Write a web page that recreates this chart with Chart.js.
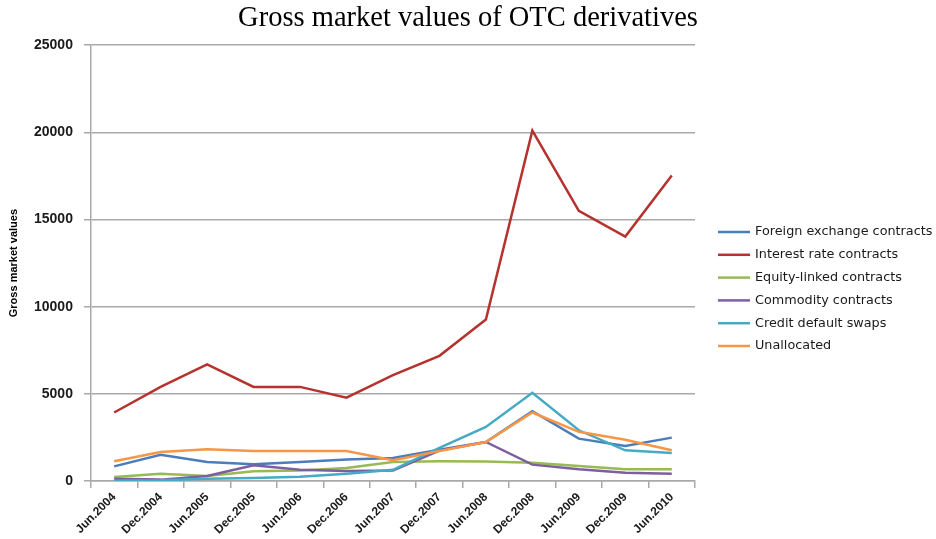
<!DOCTYPE html>
<html>
<head>
<meta charset="utf-8">
<script src="https://cdn.jsdelivr.net/npm/chart.js@4.4.1/dist/chart.umd.min.js"></script>
<style>
  html, body { margin: 0; padding: 0; background: #ffffff; }
  #wrap { width: 936px; height: 539px; position: relative; }
</style>
</head>
<body>
<div id="wrap"><canvas id="chart"></canvas></div>
<script>
// Half-yearly reporting dates
const categories = ['Jun.2004', 'Dec.2004', 'Jun.2005', 'Dec.2005', 'Jun.2006', 'Dec.2006',
                    'Jun.2007', 'Dec.2007', 'Jun.2008', 'Dec.2008', 'Jun.2009', 'Dec.2009', 'Jun.2010'];

// Gross market values by risk category
const foreignExchange = [840, 1510, 1090, 960, 1090, 1230, 1320, 1800, 2240, 4000, 2430, 2010, 2490];
const interestRate    = [3930, 5400, 6690, 5400, 5400, 4780, 6070, 7180, 9260, 20100, 15500, 14020, 17530];
const equityLinked    = [230, 420, 290, 560, 600, 750, 1090, 1130, 1120, 1050, 860, 670, 670];
const commodity       = [130, 80, 290, 900, 650, 575, 610, 1750, 2240, 940, 670, 480, 420];
const creditDefault   = [20, 40, 130, 175, 250, 420, 640, 1900, 3100, 5060, 2910, 1760, 1610];
const unallocated     = [1130, 1670, 1820, 1720, 1720, 1720, 1190, 1720, 2240, 3930, 2820, 2370, 1760];

const seriesNames = ['Foreign exchange contracts', 'Interest rate contracts', 'Equity-linked contracts',
                     'Commodity contracts', 'Credit default swaps', 'Unallocated'];
const seriesValues = [foreignExchange, interestRate, equityLinked, commodity, creditDefault, unallocated];
const seriesColors = ['#4a7ebb', '#b5322f', '#98b954', '#7d5fa0', '#46aac5', '#f79646'];

// y axis tick values
const yTicks = [0, 5000, 10000, 15000, 20000, 25000];

// Legend drawn as a simple column of line samples to the right of the plot
const sideLegend = {
  id: 'sideLegend',
  afterDraw(chart, args, opts) {
    const ctx = chart.ctx;
    const area = chart.chartArea;
    const x0 = area.right + opts.gap;
    ctx.save();
    ctx.font = opts.font;
    ctx.textBaseline = 'middle';
    ctx.textAlign = 'left';
    chart.data.datasets.forEach((ds, i) => {
      const y = opts.top + i * opts.rowHeight;
      ctx.strokeStyle = ds.borderColor;
      ctx.lineWidth = ds.borderWidth;
      ctx.beginPath();
      ctx.moveTo(x0, y);
      ctx.lineTo(x0 + opts.lineLength, y);
      ctx.stroke();
      ctx.fillStyle = opts.color;
      ctx.fillText(ds.label, x0 + opts.lineLength + opts.textGap, y);
    });
    ctx.restore();
  }
};

const gridGrey = '#a9a9a9';

new Chart(document.getElementById('chart'), {
  type: 'line',
  data: {
    labels: categories,
    datasets: seriesNames.map((name, i) => ({
      label: name,
      data: seriesValues[i],
      borderColor: seriesColors[i],
      backgroundColor: seriesColors[i],
      borderWidth: 2.5,
      pointRadius: 0,
      tension: 0,
      fill: false,
      order: seriesNames.length - i
    }))
  },
  options: {
    responsive: true,
    maintainAspectRatio: false,
    animation: false,
    layout: { padding: { left: 0, right: 0, top: 0, bottom: 0 } },
    plugins: {
      legend: { display: false },
      tooltip: { enabled: false },
      title: {
        display: true,
        text: 'Gross market values of OTC derivatives',
        color: '#000000',
        font: { family: "'Liberation Serif', 'Times New Roman', serif", size: 28.5, weight: 'normal' },
        padding: { top: 1, bottom: 10 }
      },
      sideLegend: {
        font: "12.8px 'DejaVu Sans', sans-serif",
        color: '#1a1a1a',
        top: 232,
        rowHeight: 22.8,
        gap: 23,
        lineLength: 32,
        textGap: 5
      }
    },
    scales: {
      x: {
        offset: true,
        grid: {
          display: true,
          offset: true,
          drawOnChartArea: false,
          drawTicks: true,
          tickLength: 7,
          color: gridGrey,
          lineWidth: 1.5
        },
        border: { color: gridGrey, width: 1.5 },
        ticks: {
          autoSkip: false,
          minRotation: 45,
          maxRotation: 45,
          padding: 2,
          color: '#1a1a1a',
          font: { family: "'Liberation Sans', Arial, sans-serif", size: 12, weight: 'bold' }
        }
      },
      y: {
        min: yTicks[0],
        max: yTicks[yTicks.length - 1],
        afterBuildTicks: (scale) => { scale.ticks = yTicks.map(v => ({ value: v })); },
        grid: { color: gridGrey, lineWidth: 1.5, tickLength: 7 },
        border: { color: gridGrey, width: 1.5 },
        ticks: {
          padding: 11,
          color: '#1a1a1a',
          font: { family: "'Liberation Sans', Arial, sans-serif", size: 14, weight: 'bold' },
          callback: (value) => String(value)
        },
        title: {
          display: true,
          text: 'Gross market values',
          color: '#000000',
          font: { family: "'Liberation Sans Narrow', 'Liberation Sans', sans-serif", size: 11, weight: 'bold', lineHeight: 1 },
          padding: { top: 8.5, bottom: 3.5 }
        }
      },
      // empty right-hand axis that keeps room free for the legend column
      legendSpace: {
        type: 'linear',
        position: 'right',
        display: true,
        grid: { display: false, drawOnChartArea: false, drawTicks: false },
        border: { display: false },
        ticks: { display: false },
        afterFit: (scale) => { scale.width = 241; }
      }
    }
  },
  plugins: [sideLegend]
});
</script>
</body>
</html>
